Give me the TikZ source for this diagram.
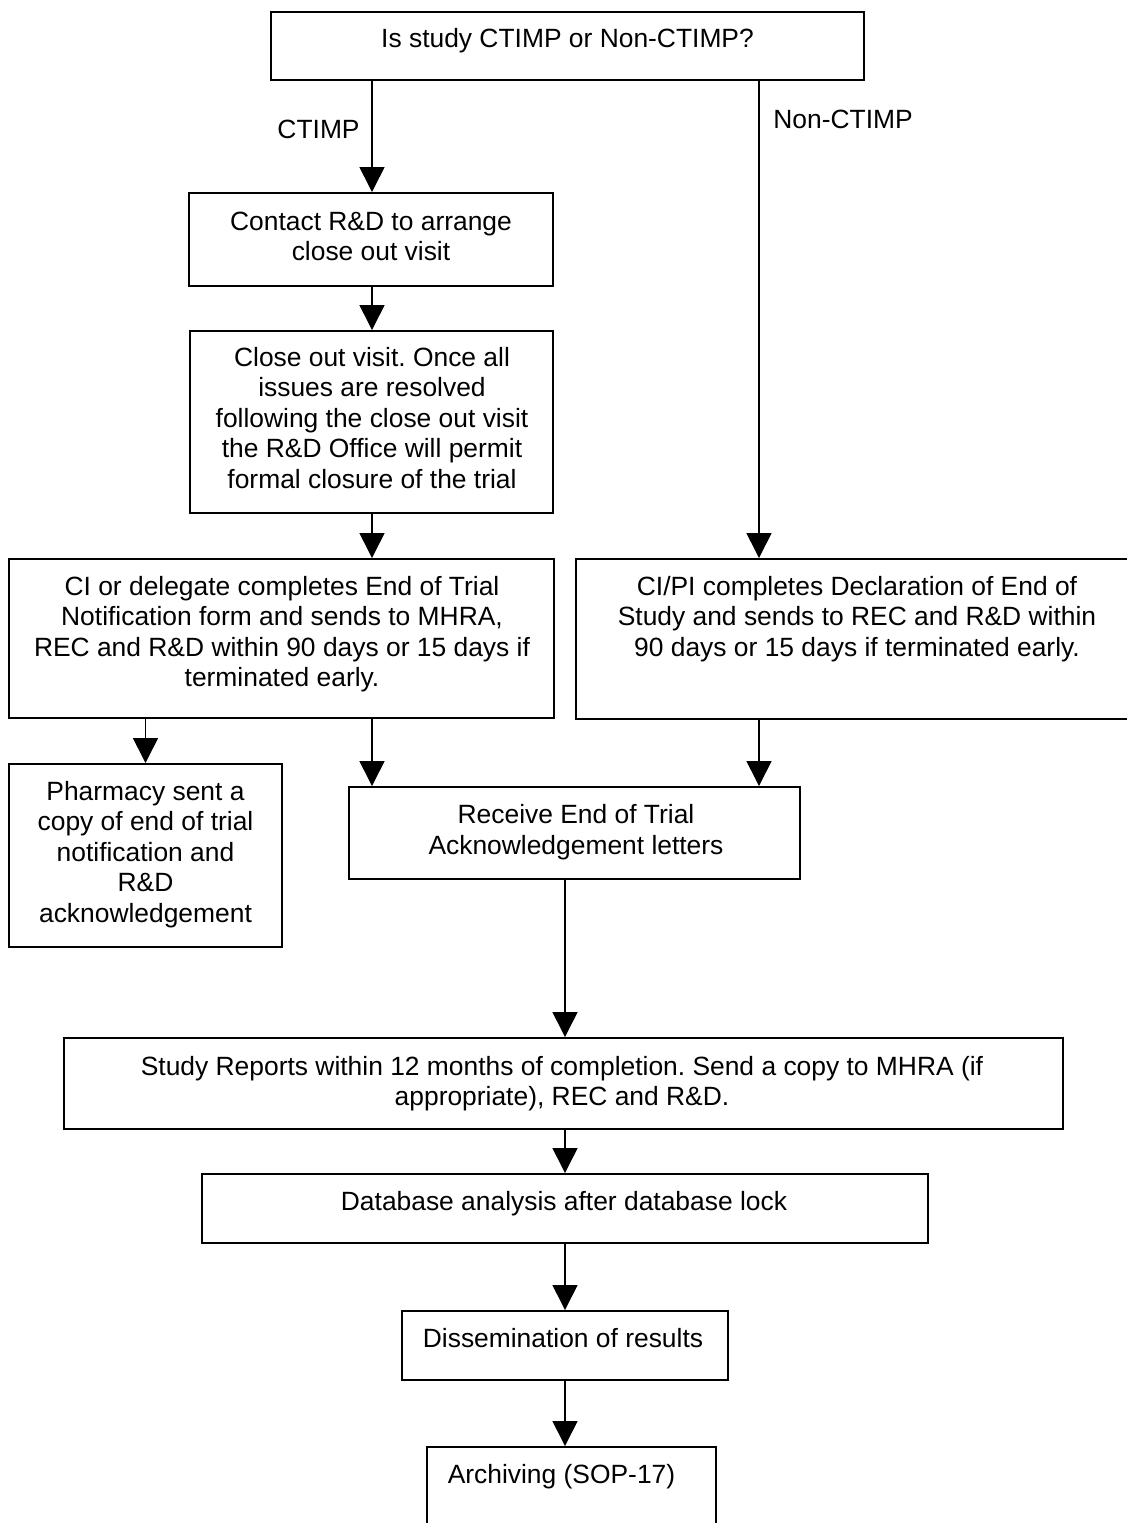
\documentclass[tikz,border=0pt]{standalone}
\usepackage{fontspec}
\setmainfont{Liberation Sans}
\usetikzlibrary{arrows.meta}
\frenchspacing
\begin{document}
\begin{tikzpicture}[x=0.5pt,y=-0.5pt,
  box/.style 2 args={draw, line width=1pt, inner sep=0pt, outer sep=0.5pt,
    minimum width=#1*0.5pt, minimum height=#2*0.5pt},
  txt/.style={inner sep=0pt, align=center, font=\fontsize{13.2pt}{15.25pt}\selectfont\frenchspacing},
  arr/.style={line width=0.8pt, -{Triangle[length=12.5pt,width=12.5pt]}}]
\path[use as bounding box] (0,0) rectangle (1127,1523);
\fill[white] (0,0) rectangle (1127,1523);
\begin{scope}
\clip (0,0) rectangle (1127,1523);
% boxes
\node[box={593}{68}]  (top)     at (567.5,46)    {};
\node[box={364}{93}]  (contact) at (371,239.5)   {};
\node[box={363}{182}] (close)   at (371.5,422)   {};
\node[box={545}{159}] (ci)      at (281.5,638.5) {};
\node[box={553}{160}] (cipi)    at (852.5,639)   {};
\node[box={273}{183}] (pharm)   at (145.5,855.5) {};
\node[box={451}{92}]  (recv)    at (574.5,833)   {};
\node[box={999}{91}]  (study)   at (563.5,1083.5){};
\node[box={726}{69}]  (db)      at (565,1208.5)  {};
\node[box={326}{69}]  (diss)    at (565,1345.5)  {};
\node[box={289}{93}]  (arch)    at (571.5,1493.5){};
% texts
\node[txt, anchor=base]  (ttop)     at (567.5,47)   {Is study CTIMP or Non-CTIMP?};
\node[txt, anchor=north] (tcontact) at (371,208.6)  {\strut Contact R\&D to arrange\\\strut close out visit};
\node[txt, anchor=north] (tclose)   at (372,344.6)  {\strut Close out visit. Once all\\\strut issues are resolved\\\strut following the close out visit\\\strut the R\&D Office will permit\\\strut formal closure of the trial};
\node[txt, anchor=north] (tci)      at (282,573.6)  {\strut CI or delegate completes End of Trial\\\strut Notification form and sends to MHRA,\\\strut REC and R\&D within 90 days or 15 days if\\\strut terminated early.};
\node[txt, anchor=north] (tcipi)    at (857,573.6)  {\strut CI/PI completes Declaration of End of\\\strut Study and sends to REC and R\&D within\\\strut 90 days or 15 days if terminated early.};
\node[txt, anchor=north] (tpharm)   at (145.5,778.6){\strut Pharmacy sent a\\\strut copy of end of trial\\\strut notification and\\\strut R\&D\\\strut acknowledgement};
\node[txt, anchor=north] (trecv)    at (576,802)    {\strut Receive End of Trial\\\strut Acknowledgement letters};
\node[txt, anchor=north] (tstudy)   at (562,1053.6) {\strut Study Reports within 12 months of completion. Send a copy to MHRA (if\\\strut appropriate), REC and R\&D.};
\node[txt, anchor=base]  (tdb)      at (564,1210)   {Database analysis after database lock};
\node[txt, anchor=base]  (tdiss)    at (563,1347)   {Dissemination of results};
\node[txt, anchor=base]  (tarch)    at (561.5,1483) {Archiving (SOP-17)};
\node[txt, anchor=base east] (lct)  at (360,138)    {CTIMP};
\node[txt, anchor=base west] (lnc)  at (773,128)    {Non-CTIMP};
% connector columns
\coordinate (xa) at (372,0);
\coordinate (xb) at (759,0);
\coordinate (xc) at (565,0);
% connectors
\draw[arr] (top.south -| xa)     -- (contact.north -| xa);
\draw[arr] (top.south -| xb)     -- (cipi.north -| xb);
\draw[arr] (contact.south -| xa) -- (close.north -| xa);
\draw[arr] (close.south -| xa)   -- (ci.north -| xa);
\draw[arr] (ci.south -| pharm.north) -- (pharm.north);
\draw[arr] (ci.south -| xa)      -- (recv.north -| xa);
\draw[arr] (cipi.south -| xb)    -- (recv.north -| xb);
\draw[arr] (recv.south -| xc)    -- (study.north -| xc);
\draw[arr] (study.south -| xc)   -- (db.north -| xc);
\draw[arr] (db.south -| xc)      -- (diss.north -| xc);
\draw[arr] (diss.south -| xc)    -- (arch.north -| xc);
\end{scope}
\end{tikzpicture}
\end{document}
